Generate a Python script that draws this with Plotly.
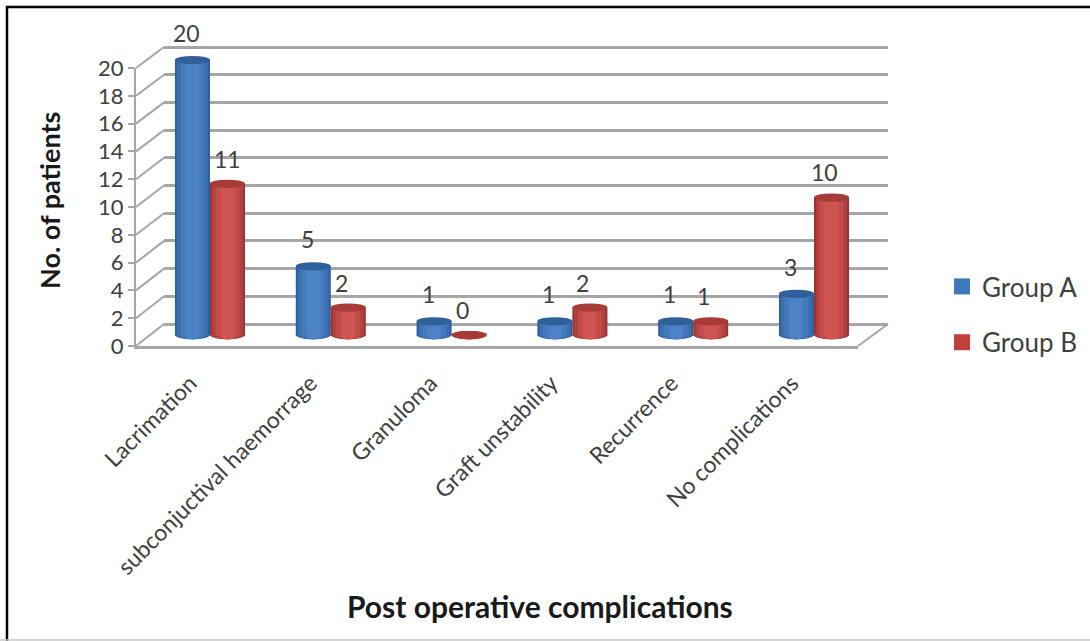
import plotly.graph_objects as go

categories = ["Lacrimation", "subconjuctival haemorrage", "Granuloma",
              "Graft unstability", "Recurrence", "No complications"]
group_a = [20, 5, 1, 1, 1, 3]
group_b = [11, 2, 0, 2, 1, 10]
y_ticks = list(range(0, 21, 2))
series_names = ["Group A", "Group B"]

W, H = 1090, 641
FONT = "Lato, Carlito, 'Noto Sans', sans-serif"
TXT = "#404040"
GRID = "#a6a6a6"

def px(x): return x / W
def py(y): return 1 - y / H

BAR_W = 0.29
CAP = 0.30
shades = {
    "Group A": {"layers": [(1.0, "#2f5f9c"), (0.88, "#3a6fb0"), (0.68, "#4479bb"), (0.4, "#4c83c6")], "cap": "#2f6099"},
    "Group B": {"layers": [(1.0, "#9a3533"), (0.88, "#b24240"), (0.68, "#c34c4a"), (0.4, "#cf5553")], "cap": "#a83a38"},
}

fig = go.Figure()
shapes = []
idx = list(range(len(categories)))
for name, vals, off in [("Group A", group_a, -BAR_W), ("Group B", group_b, 0.0)]:
    style = shades[name]
    for k, (frac, col) in enumerate(style["layers"]):
        w = BAR_W * frac
        o = off + (BAR_W - w) / 2
        fig.add_trace(go.Bar(
            x=idx, y=vals, width=w, offset=o, name=name,
            marker=dict(color=col, line=dict(width=0)),
            xaxis="x3", yaxis="y3",
            legendgroup=name, showlegend=False, hoverinfo="skip"))
        for i, v in zip(idx, vals):
            shapes.append(dict(type="circle", xref="x3", yref="y3", layer="below",
                               x0=i + o, x1=i + o + w, y0=-CAP, y1=CAP,
                               fillcolor=col, line=dict(width=0)))
    for i, v in zip(idx, vals):
        shapes.append(dict(type="circle", xref="x3", yref="y3", layer="above",
                           x0=i + off, x1=i + off + BAR_W, y0=v - CAP, y1=v + CAP,
                           fillcolor=style["cap"], line=dict(width=0)))

# legend keys
for name, col in [("Group A", "#3f78bd"), ("Group B", "#c0403e")]:
    fig.add_trace(go.Scatter(x=[None], y=[None], name=name, mode="markers",
                             marker=dict(color=col, symbol="square", size=16),
                             xaxis="x3", yaxis="y3", showlegend=True, legendgroup=name))

# side wall / floor connectors between the front axis and the back wall
FRONT_X, FRONT_X1, FRONT_Y0, FRONT_U = 136, 858, 346, 13.9
BACK_X, BACK_X1, BACK_Y0, BACK_U = 164, 888, 324, 13.85
for t in y_ticks:
    shapes.append(dict(type="line", xref="paper", yref="paper", layer="below",
                       x0=px(FRONT_X), y0=py(FRONT_Y0 - FRONT_U * t),
                       x1=px(BACK_X), y1=py(BACK_Y0 - BACK_U * t),
                       line=dict(color=GRID, width=2)))
shapes.append(dict(type="line", xref="paper", yref="paper", layer="below",
                   x0=px(FRONT_X1), y0=py(FRONT_Y0), x1=px(BACK_X1), y1=py(BACK_Y0),
                   line=dict(color=GRID, width=2)))
# picture frame
shapes += [
    dict(type="line", xref="paper", yref="paper", x0=px(6), x1=1, y0=py(7), y1=py(7),
         line=dict(color="#000000", width=2.5)),
    dict(type="line", xref="paper", yref="paper", x0=px(7), x1=px(7), y0=py(6), y1=0,
         line=dict(color="#000000", width=2.5)),
    dict(type="line", xref="paper", yref="paper", x0=0, x1=1, y0=py(640), y1=py(640),
         line=dict(color="#c8c8c8", width=1.5)),
]

# value labels
annos = []
for i, (a, b) in enumerate(zip(group_a, group_b)):
    annos.append(dict(x=i - BAR_W / 2, y=a, xref="x3", yref="y3", text=str(a), showarrow=False,
                      xshift=-6, yshift=27, font=dict(size=23, color=TXT, family=FONT)))
    xs = 0 if (i == 0) else -7
    annos.append(dict(x=i + BAR_W / 2, y=b, xref="x3", yref="y3", text=str(b), showarrow=False,
                      xshift=xs, yshift=25, font=dict(size=23, color=TXT, family=FONT)))
annos.append(dict(x=px(540), y=py(606), xref="paper", yref="paper", xanchor="center", yanchor="middle",
                  text="<b>Post operative complications</b>",
                  showarrow=False, font=dict(size=30, color="#1a1a1a", family=FONT)))
annos.append(dict(x=px(50), y=py(201), xref="paper", yref="paper", xanchor="center", yanchor="middle",
                  text="<b>No. of patients</b>", textangle=-90,
                  showarrow=False, font=dict(size=27, color="#1a1a1a", family=FONT)))

# padding around the wall / bar ranges so edge lines and ellipses are not clipped
PAD = 1
fig.update_layout(
    width=W, height=H, margin=dict(l=0, r=0, t=0, b=0, autoexpand=False), autosize=False,
    paper_bgcolor="white", plot_bgcolor="rgba(0,0,0,0)",
    barmode="overlay", shapes=shapes, annotations=annos,
    font=dict(family=FONT, color=TXT),
    legend=dict(x=px(942), y=py(263), xanchor="left", yanchor="top", tracegroupgap=19,
                font=dict(size=26, color=TXT, family=FONT), bgcolor="rgba(0,0,0,0)"),
    # back wall
    xaxis=dict(domain=[px(BACK_X), px(BACK_X1)], range=[0, 1], visible=False, anchor="y"),
    yaxis=dict(domain=[py(BACK_Y0 + BACK_U * PAD), py(BACK_Y0 - BACK_U * (20 + PAD))],
               range=[-PAD, 20 + PAD], anchor="x",
               tickvals=y_ticks, showgrid=True, gridcolor=GRID, gridwidth=2.5,
               showticklabels=False, zeroline=False, showline=False, ticks=""),
    # front axis
    xaxis2=dict(domain=[px(FRONT_X), px(FRONT_X1)], range=[-0.5, 5.5], anchor="y2",
                tickvals=idx, ticktext=categories, tickangle=-45, showline=True, linecolor=GRID,
                linewidth=2.5, showgrid=False, zeroline=False, ticks="outside", ticklen=8,
                ticklabelshift=-6, ticklabelstandoff=4,
                tickcolor="rgba(0,0,0,0)", tickfont=dict(size=23, color=TXT, family=FONT)),
    yaxis2=dict(domain=[py(FRONT_Y0), py(FRONT_Y0 - FRONT_U * 20)], range=[0, 20], anchor="x2",
                tickvals=y_ticks, showgrid=False, zeroline=False, showline=True, linecolor=GRID,
                linewidth=2, ticks="outside", ticklen=6, tickcolor=GRID, tickwidth=2,
                tickfont=dict(size=22, color=TXT, family=FONT)),
    # bars
    xaxis3=dict(domain=[px(149.6), px(874.4)], range=[-0.5, 5.5], anchor="y3", visible=False),
    yaxis3=dict(domain=[py(335 + 13.75 * PAD), py(335 - 13.75 * 21)], range=[-PAD, 21], anchor="x3", visible=False),
)
fig.add_trace(go.Scatter(x=[None], y=[None], xaxis="x", yaxis="y", showlegend=False))
fig.add_trace(go.Scatter(x=[None], y=[None], xaxis="x2", yaxis="y2", showlegend=False))
fig.write_html("out.html", config={"displayModeBar": False},
               post_script="document.body.style.margin='0';")
